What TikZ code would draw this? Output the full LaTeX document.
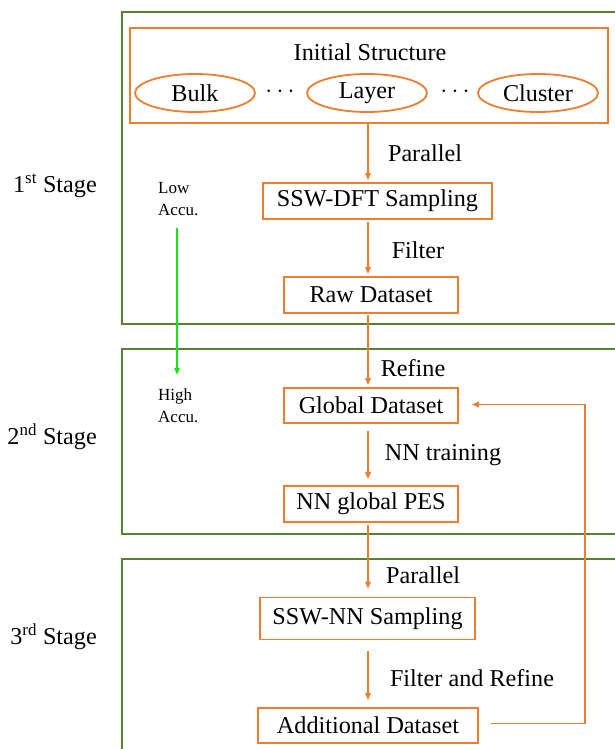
\documentclass[tikz,border=0pt]{standalone}
\usepackage{fontspec}
\setmainfont{Liberation Serif}
\newfontfamily\tnr{Liberation Serif}
\usetikzlibrary{shapes.geometric,arrows.meta}
\definecolor{stagegreen}{RGB}{84,130,53}
\definecolor{boxorange}{RGB}{237,125,49}
\definecolor{accgreen}{RGB}{20,230,20}
\begin{document}
\begin{tikzpicture}[x=1pt,y=-1pt,
  stagebox/.style={draw=stagegreen,line width=2.4pt,anchor=north west,inner sep=0pt},
  procbox/.style={draw=boxorange,line width=1.8pt,inner sep=0pt,font=\tnr\fontsize{24.2}{29}\selectfont},
  ellbox/.style={ellipse,draw=boxorange,line width=1.8pt,inner sep=0pt,minimum width=120pt,minimum height=38pt,font=\tnr\fontsize{24.2}{29}\selectfont},
  lbl/.style={font=\tnr\fontsize{24.2}{29}\selectfont,inner sep=0pt},
  small/.style={font=\tnr\fontsize{17}{22}\selectfont,inner sep=0pt,align=left,anchor=west},
  flow/.style={draw=boxorange,line width=1.8pt,-{Triangle[length=7pt,width=5.5pt]}},
  accflow/.style={draw=accgreen,line width=1.8pt,-{Triangle[length=7pt,width=5.5pt]}}
]
\useasboundingbox (0,0) rectangle (615,749);
\clip (0,0) rectangle (615,749);

% stage boxes
\node[stagebox,minimum width=530pt,minimum height=312pt] (s1) at (121,11) {};
\node[stagebox,minimum width=530pt,minimum height=185pt] (s2) at (121,348) {};
\node[stagebox,minimum width=530pt,minimum height=220pt] (s3) at (121,558) {};

% stage labels
\node[lbl,anchor=east] (l1) at (97,186) {1\textsuperscript{st} Stage};
\node[lbl,anchor=east] (l2) at (97,437) {2\textsuperscript{nd} Stage};
\node[lbl,anchor=east] (l3) at (97,637) {3\textsuperscript{rd} Stage};

% initial structure
\node[procbox,minimum width=478pt,minimum height=95pt] (init) at (369,75.5) {};
\node[lbl] (inittxt) at (370,52) {Initial Structure};
\node[ellbox] (bulk) at (195,93) {Bulk};
\node[ellbox] (layer) at (367,93) {Layer};
\node[ellbox] (cluster) at (538,93) {Cluster};
\node[lbl] (d1) at (280,92) {$\cdots$};
\node[lbl] (d2) at (455,92) {$\cdots$};

% process boxes
\node[procbox,minimum width=229pt,minimum height=36pt] (sswdft) at (377.5,201) {SSW-DFT Sampling};
\node[procbox,minimum width=174pt,minimum height=36pt] (raw) at (371,295) {Raw Dataset};
\node[procbox,minimum width=174pt,minimum height=35pt] (global) at (371,405.5) {Global Dataset};
\node[procbox,minimum width=174pt,minimum height=36pt] (nnpes) at (371,504) {NN global PES};
\node[procbox,minimum width=215pt,minimum height=42pt] (sswnn) at (367.5,618.5) {SSW-NN Sampling};
\node[procbox,minimum width=220pt,minimum height=35pt] (add) at (368,725.5) {Additional Dataset};

% arrow labels
\node[lbl] (t1) at (425,153) {Parallel};
\node[lbl] (t2) at (418,250) {Filter};
\node[lbl] (t3) at (413,368) {Refine};
\node[lbl] (t4) at (443,455) {NN training};
\node[lbl] (t5) at (423,575) {Parallel};
\node[lbl] (t6) at (472,678) {Filter and Refine};

% accuracy labels
\node[small] (low) at (158,199) {Low\\Accu.};
\node[small] (high) at (158,406) {High\\Accu.};

% connectors
\coordinate (col) at (368,0);
\coordinate (fb) at (585,0);
\coordinate (gx) at (177,0);
\draw[flow,shorten >=2pt] (init.south -| col) -- (sswdft.north -| col);
\draw[flow,shorten <=2pt,shorten >=2pt] (sswdft.south -| col) -- (raw.north -| col);
\draw[flow,shorten <=1pt,shorten >=2pt] (raw.south -| col) -- (global.north -| col);
\draw[flow,shorten <=7pt,shorten >=6pt] (global.south -| col) -- (nnpes.north -| col);
\draw[flow,shorten <=2pt,shorten >=8pt] (nnpes.south -| col) -- (sswnn.north -| col);
\draw[flow,shorten <=11pt,shorten >=7pt] (sswnn.south -| col) -- (add.north -| col);
\draw[flow] ([xshift=12pt,yshift=2pt]add.east) -- ([yshift=2pt]add.east -| fb) -- ([yshift=1pt]global.east -| fb) -- ([xshift=13pt,yshift=1pt]global.east);
\draw[accflow] ([yshift=-12pt]low.south -| gx) -- ([yshift=14pt]high.north -| gx);
\end{tikzpicture}
\end{document}
